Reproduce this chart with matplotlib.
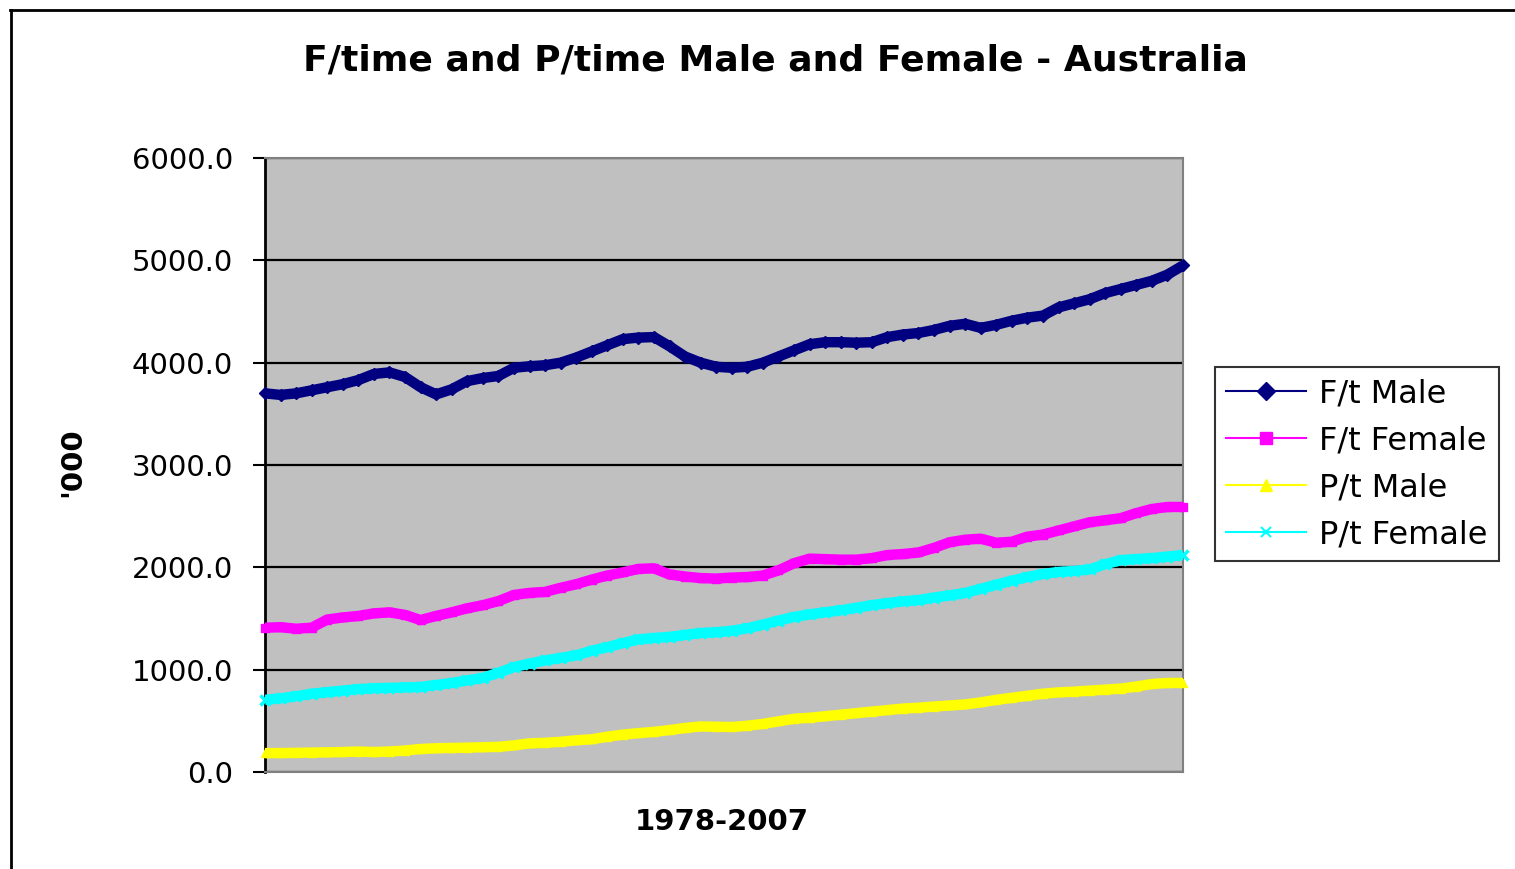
import matplotlib
matplotlib.use("Agg")
import matplotlib.pyplot as plt
from matplotlib.lines import Line2D
import numpy as np

title = "F/time and P/time Male and Female - Australia"
xlabel = "1978-2007"
ylabel = "'000"
series_names = ["F/t Male", "F/t Female", "P/t Male", "P/t Female"]

ft_male = [3700, 3685, 3700, 3730, 3760, 3790, 3830, 3890, 3905, 3860,
           3760, 3690, 3740, 3820, 3850, 3870, 3950, 3965, 3975, 4000,
           4050, 4110, 4170, 4230, 4245, 4250, 4160, 4060, 4000, 3960,
           3950, 3960, 4000, 4060, 4120, 4180, 4200, 4200, 4195, 4200,
           4250, 4275, 4290, 4320, 4360, 4380, 4340, 4370, 4410, 4440,
           4460, 4540, 4580, 4620, 4680, 4720, 4760, 4800, 4860, 4950]
ft_female = [1410, 1415, 1400, 1410, 1490, 1510, 1525, 1550, 1560, 1535,
             1485, 1525, 1560, 1600, 1630, 1670, 1730, 1750, 1760, 1800,
             1835, 1880, 1920, 1950, 1985, 1990, 1930, 1910, 1895, 1890,
             1900, 1905, 1920, 1970, 2040, 2085, 2080, 2075, 2075, 2090,
             2120, 2130, 2145, 2190, 2245, 2270, 2280, 2240, 2250, 2300,
             2320, 2360, 2400, 2440, 2460, 2480, 2530, 2570, 2590, 2590]
pt_male = [185, 185, 187, 190, 192, 195, 200, 195, 200, 210,
           225, 232, 235, 238, 242, 246, 260, 280, 285, 295,
           310, 320, 345, 365, 380, 392, 410, 430, 445, 442,
           440, 452, 470, 495, 520, 530, 545, 560, 575, 590,
           605, 620, 628, 640, 650, 660, 680, 705, 725, 745,
           765, 778, 785, 795, 805, 815, 835, 860, 870, 870]
pt_female = [705, 720, 740, 765, 780, 795, 810, 818, 822, 826,
             831, 850, 870, 895, 920, 970, 1025, 1060, 1090, 1115,
             1140, 1185, 1220, 1260, 1295, 1310, 1320, 1340, 1358, 1365,
             1380, 1405, 1440, 1480, 1515, 1540, 1560, 1580, 1605, 1630,
             1650, 1668, 1680, 1705, 1725, 1750, 1790, 1830, 1870, 1905,
             1935, 1955, 1965, 1980, 2030, 2070, 2080, 2090, 2105, 2120]

yticks = [0, 1000, 2000, 3000, 4000, 5000, 6000]

colors = ["#000080", "#FF00FF", "#FFFF00", "#00FFFF"]
markers = ["D", "s", "^", "x"]
data = [ft_male, ft_female, pt_male, pt_female]

W, H = 1515, 869
fig = plt.figure(figsize=(W / 100, H / 100), dpi=100)
fig.patch.set_facecolor("white")

ax = fig.add_axes([265 / W, 1 - 772 / H, (1183 - 265) / W, (772 - 158) / H])
ax.set_facecolor("#C0C0C0")

x = np.arange(len(ft_male))
for vals, c, m in zip(data, colors, markers):
    ax.plot(x, vals, color=c, lw=7.5, solid_capstyle="butt",
            solid_joinstyle="round", zorder=3)
    if m == "x":
        ax.plot(x, vals, color=c, lw=0, marker=m, ms=7, mew=2.5, zorder=3,
                clip_on=False)
    else:
        ax.plot(x, vals, color=c, lw=0, marker=m, ms=6, zorder=3,
                clip_on=False)

ax.set_xlim(0, len(x) - 1)
ax.set_ylim(0, 6000)
ax.set_yticks(yticks)
ax.set_yticklabels([f"{v:.1f}" for v in yticks], fontsize=21)
ax.set_xticks([])
ax.tick_params(axis="y", direction="out", length=9, width=1.5, pad=14,
               colors="black")
ax.yaxis.grid(True, color="black", lw=1.6, zorder=1)
ax.set_axisbelow(True)
for s in ["top", "right", "bottom"]:
    ax.spines[s].set_color("#808080")
    ax.spines[s].set_linewidth(1.5)
ax.spines["left"].set_color("black")
ax.spines["left"].set_linewidth(2)

fig.text(775 / W, 1 - 60 / H, title, ha="center", va="center",
         fontsize=26, fontweight="bold")
fig.text(722 / W, 1 - 822 / H, xlabel, ha="center", va="center",
         fontsize=21, fontweight="bold")
fig.text(72 / W, 1 - 462 / H, ylabel, ha="center", va="center",
         fontsize=21, fontweight="bold", rotation=90)

handles = []
for name, c, m in zip(series_names, colors, markers):
    handles.append(Line2D([0], [0], color=c, lw=1.5, marker=m,
                          ms=9 if m != "x" else 7, mew=1.5 if m == "x" else 1,
                          label=name))
leg = fig.legend(handles=handles, loc="upper left",
                 bbox_to_anchor=(1215 / W, 1 - 367 / H), fontsize=23,
                 frameon=True, fancybox=False, edgecolor="black",
                 handlelength=2.5, handletextpad=0.4, labelspacing=0.5,
                 borderpad=0.35, borderaxespad=0)
leg.get_frame().set_linewidth(1.5)

# outer chart border
fig.add_artist(Line2D([10 / W, 1], [1 - 10 / H, 1 - 10 / H], color="black",
                      lw=2, transform=fig.transFigure))
fig.add_artist(Line2D([11 / W, 11 / W], [0, 1 - 10 / H], color="black",
                      lw=2, transform=fig.transFigure))

fig.savefig("out.png", dpi=100)
